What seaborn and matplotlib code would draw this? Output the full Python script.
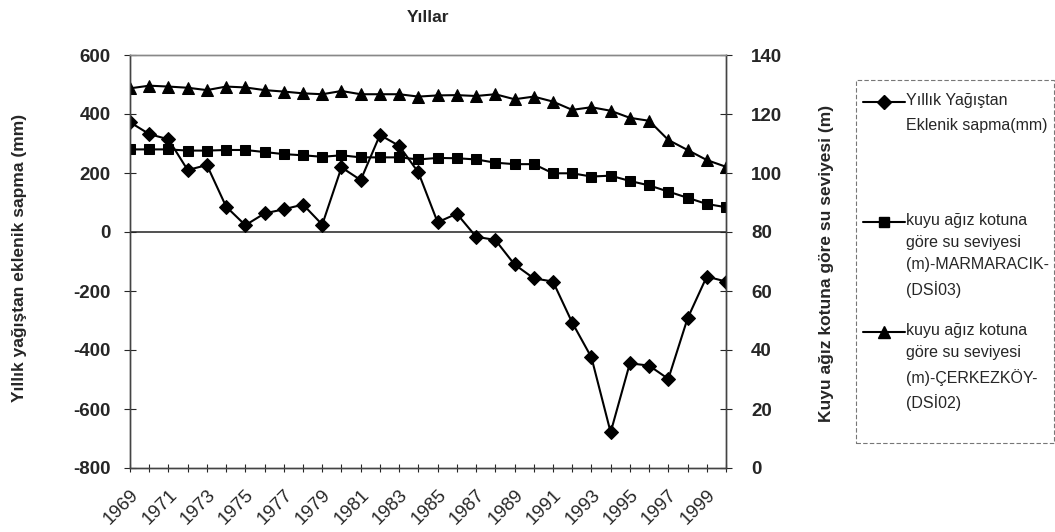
import numpy as np
import pandas as pd
import matplotlib
matplotlib.use('Agg')
import matplotlib.pyplot as plt
from matplotlib.lines import Line2D
from matplotlib.patches import Rectangle
import seaborn as sns

# yıllar
years = list(range(1969, 2001))

# Yıllık Yağıştan Eklenik sapma (mm) - sol eksen
eklenik = [372, 332, 314, 210, 227, 86, 23, 63, 77, 93, 25, 219, 176, 329, 292, 202,
           33, 62, -16, -27, -110, -157, -168, -307, -425, -679, -445, -453, -498, -293,
           -151, -168]

# MARMARACIK (DSİ03) su seviyesi (m) - sağ eksen
marmaracik = [108, 108, 108, 107.6, 107.6, 107.8, 107.8, 107.1, 106.4, 106, 105.5, 106,
              105.3, 105.3, 105.3, 104.6, 105.1, 105, 104.6, 103.5, 103, 103, 99.9, 99.9,
              98.8, 99.1, 97.3, 95.8, 93.7, 91.6, 89.5, 88.4]

# ÇERKEZKÖY (DSİ02) su seviyesi (m) - sağ eksen
cerkezkoy = [128.7, 129.6, 129.3, 128.9, 128.1, 129.3, 129, 128.1, 127.6, 127, 126.7,
             127.8, 126.7, 126.7, 126.7, 125.9, 126.3, 126.4, 126.1, 126.7, 125, 125.9,
             124.2, 121.4, 122.3, 121.1, 118.7, 117.7, 111.2, 107.8, 104.4, 102.1]

left_ticks = [-800, -600, -400, -200, 0, 200, 400, 600]
right_ticks = [0, 20, 40, 60, 80, 100, 120, 140]
label_years = list(range(1969, 2000, 2))

lbl1 = 'Yıllık Yağıştan\nEklenik sapma(mm)'
lbl2 = 'kuyu ağız kotuna\ngöre su seviyesi\n(m)-MARMARACIK-\n(DSİ03)'
lbl3 = 'kuyu ağız kotuna\ngöre su seviyesi\n(m)-ÇERKEZKÖY-\n(DSİ02)'

sns.set_style('white')
plt.rcParams['font.family'] = ['Liberation Sans', 'DejaVu Sans']
plt.rcParams['axes.unicode_minus'] = False

df = pd.DataFrame({'yil': years, 'eklenik': eklenik,
                   'marmaracik': marmaracik, 'cerkezkoy': cerkezkoy})

W, H = 1055, 532
fig = plt.figure(figsize=(W / 100, H / 100), dpi=100)
ax = fig.add_axes([130 / W, 1 - 468 / H, 596 / W, 413 / H])
ax2 = ax.twinx()

sns.lineplot(data=df, x='yil', y='eklenik', ax=ax, color='black', lw=1.5,
             marker='D', markersize=7, markeredgecolor='black')
sns.lineplot(data=df, x='yil', y='marmaracik', ax=ax2, color='black', lw=1.5,
             marker='s', markersize=7, markeredgecolor='black')
sns.lineplot(data=df, x='yil', y='cerkezkoy', ax=ax2, color='black', lw=1.5,
             marker='^', markersize=8, markeredgecolor='black')

ax.set_xlim(1969, 2000)
ax.set_ylim(-800, 600)
ax2.set_ylim(0, 140)
ax.set_yticks(left_ticks)
ax2.set_yticks(right_ticks)
ax.set_xticks(years)
ax.set_xticklabels([str(y) if y in label_years else '' for y in years],
                   rotation=45, ha='right', rotation_mode='anchor', fontsize=13.5)

ax.axhline(0, color='#333333', lw=1.2, zorder=0)

ax.set_xlabel('')
ax.set_ylabel('')
ax2.set_ylabel('')

for a in (ax, ax2):
    for s in a.spines.values():
        s.set_color('#444444')
        s.set_linewidth(1.0)
    a.spines['top'].set_color('#888888')
    a.spines['top'].set_linestyle((0, (2, 1)))

ax.tick_params(axis='y', direction='inout', length=8, width=0.8, pad=10,
               labelsize=13.5, left=True)
ax.tick_params(axis='x', direction='inout', length=6, width=0.8, pad=10, bottom=True)
ax2.tick_params(axis='y', direction='inout', length=8, width=0.8, pad=14,
                labelsize=13.5, right=True)
for t in ax.get_yticklabels() + ax2.get_yticklabels():
    t.set_fontweight('bold')

fig.text(428 / W, 1 - 18 / H, 'Yıllar', ha='center', va='center',
         fontsize=12.5, fontweight='bold')
fig.text(20 / W, 1 - 258 / H, 'Yıllık yağıştan eklenik sapma (mm)',
         rotation=90, ha='center', va='center', fontsize=12.5, fontweight='bold')
fig.text(826 / W, 1 - 263 / H, 'Kuyu ağız kotuna göre su seviyesi (m)',
         rotation=90, ha='center', va='center', fontsize=12.5, fontweight='bold')

# legend (Excel tarzı, kesikli çerçeve)
fig.patches.append(Rectangle((856 / W, 1 - 443 / H), 198 / W, 363 / H,
                             transform=fig.transFigure, fill=False,
                             edgecolor='#777777', lw=0.8, ls=(0, (4, 2))))
legend_items = [(lbl1, 'D', 7, 102, 1.85), (lbl2, 's', 7, 222, 1.6),
                (lbl3, '^', 8, 332, 1.6)]
for lbl, mk, ms, yy, lsp in legend_items:
    fig.lines.append(Line2D([863 / W, 905 / W], [1 - yy / H, 1 - yy / H],
                            transform=fig.transFigure, color='black', lw=1.5))
    fig.lines.append(Line2D([884 / W], [1 - yy / H], transform=fig.transFigure,
                            color='black', marker=mk, markersize=ms))
    fig.text(906 / W, 1 - (yy - 9) / H, lbl, ha='left', va='top',
             fontsize=11.5, linespacing=lsp)

fig.savefig('out.png', dpi=100)
